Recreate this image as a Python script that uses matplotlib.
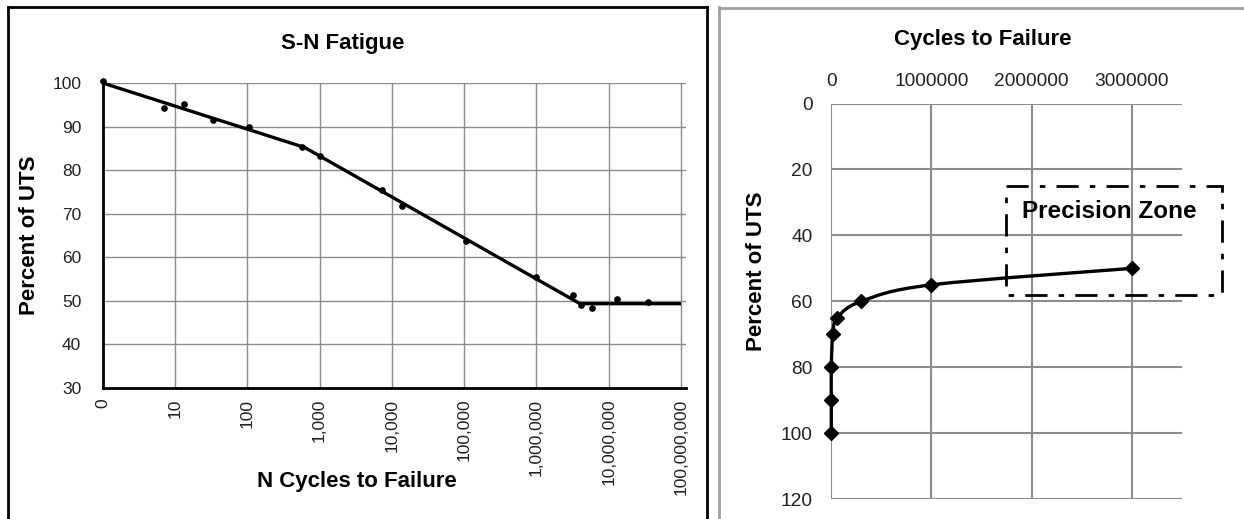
import matplotlib
matplotlib.use("Agg")
import matplotlib.pyplot as plt
from matplotlib.path import Path
from matplotlib.patches import PathPatch, Rectangle
from matplotlib.lines import Line2D
import numpy as np

plt.rcParams['font.family'] = ['Liberation Sans', 'DejaVu Sans']

# ---------------- data ----------------
# Left chart: S-N fatigue (log x)
sn_cycles = [1, 7.1, 13.5, 33.6, 105, 571, 1000, 7400, 14000, 105000,
             1.0e6, 3.2e6, 4.15e6, 5.8e6, 1.3e7, 3.5e7]
sn_pct = [100.4, 94.2, 95.2, 91.5, 89.9, 85.2, 83.2, 75.5, 71.7, 63.7,
          55.4, 51.3, 49.0, 48.2, 50.3, 49.8]
fit_cycles = [1, 620, 4.0e6, 1.0e8]
fit_pct = [100, 85.2, 49.3, 49.3]
left_xticks = [1, 10, 100, 1e3, 1e4, 1e5, 1e6, 1e7, 1e8]
left_xticklabels = ['0', '10', '100', '1,000', '10,000', '100,000',
                    '1,000,000', '10,000,000', '100,000,000']
left_yticks = [30, 40, 50, 60, 70, 80, 90, 100]

# Right chart: cycles (linear x on top) vs percent (inverted y)
cyc = [0, 0, 0, 15000, 60000, 300000, 1000000, 3000000]
pct = [100, 90, 80, 70, 65, 60, 55, 50]
right_xticks = [0, 1000000, 2000000, 3000000]
right_yticks = [0, 20, 40, 60, 80, 100, 120]
zone_x = (1.74e6, 3.9e6)
zone_y = (25.1, 58.1)

W, H = 1244, 519
fig = plt.figure(figsize=(W / 100, H / 100), dpi=100)

def fx(px):
    return px / W

def fy(py):
    return 1 - py / H

GRID = '#8c8c8c'

# ---------------- left chart ----------------
axL = fig.add_axes([fx(102.7), fy(387.7), fx(686) - fx(102.7), fy(83) - fy(387.7)])
axL.set_xscale('log')
axL.set_xlim(1, 1.17e8)
axL.set_ylim(30, 100)
axL.set_xticks(left_xticks)
axL.set_xticklabels(left_xticklabels, rotation=90)
axL.xaxis.set_minor_locator(matplotlib.ticker.NullLocator())
axL.set_yticks(left_yticks)
axL.tick_params(axis='both', length=0, labelsize=12.5, colors='#222222')
axL.tick_params(axis='x', pad=8)
axL.tick_params(axis='y', pad=15.5)
axL.grid(True, color=GRID, linewidth=1.0)
axL.set_axisbelow(True)
for s in ['top', 'right']:
    axL.spines[s].set_visible(False)
for s in ['left', 'bottom']:
    axL.spines[s].set_color('black')
    axL.spines[s].set_linewidth(2.0)
axL.plot(fit_cycles, fit_pct, color='black', linewidth=2.4, solid_capstyle='butt', clip_on=False, zorder=3)
axL.plot(sn_cycles, sn_pct, linestyle='none', marker='o', markersize=3.8, color='black', clip_on=False, zorder=4)

fig.text(fx(343), fy(44), 'S-N Fatigue', ha='center', va='center', fontsize=16, fontweight='bold')
fig.text(fx(30), fy(235), 'Percent of UTS', ha='center', va='center', fontsize=16, fontweight='bold', rotation=90)
fig.text(fx(357), fy(481), 'N Cycles to Failure', ha='center', va='center', fontsize=16, fontweight='bold')

# ---------------- right chart ----------------
axR = fig.add_axes([fx(831.3), fy(499), fx(1182) - fx(831.3), fy(103.6) - fy(499)])
axR.set_xlim(0, 3.5e6)
axR.set_ylim(120, 0)
axR.set_xticks(right_xticks)
axR.set_xticklabels([str(v) for v in right_xticks])
axR.set_yticks(right_yticks)
axR.xaxis.tick_top()
axR.tick_params(axis='both', length=0, labelsize=13.8, colors='#222222')
axR.tick_params(axis='x', pad=10)
axR.tick_params(axis='y', pad=13.5)
axR.grid(True, color=GRID, linewidth=1.5)
axR.set_axisbelow(True)
for s in axR.spines.values():
    s.set_visible(False)

# smoothed (Excel-like) line through the data points
P = np.column_stack([cyc, pct]).astype(float)
n = len(P)
verts = [tuple(P[0])]
codes = [Path.MOVETO]
for i in range(n - 1):
    p0 = P[i - 1] if i > 0 else P[i]
    p1 = P[i]
    p2 = P[i + 1]
    p3 = P[i + 2] if i + 2 < n else P[i + 1]
    c1 = p1 + (p2 - p0) / 6.0
    c2 = p2 - (p3 - p1) / 6.0
    verts += [tuple(c1), tuple(c2), tuple(p2)]
    codes += [Path.CURVE4, Path.CURVE4, Path.CURVE4]
axR.add_patch(PathPatch(Path(verts, codes), facecolor='none', edgecolor='black',
                        linewidth=2.4, zorder=3, clip_on=False))
axR.plot(cyc, pct, linestyle='none', marker='D', markersize=7, color='black', clip_on=False, zorder=4)

rect = Rectangle((zone_x[0], zone_y[0]), zone_x[1] - zone_x[0], zone_y[1] - zone_y[0],
                 fill=False, edgecolor='black', linewidth=2.0, linestyle=(0, (8, 4, 2, 4)),
                 clip_on=False, zorder=5)
axR.add_patch(rect)
axR.text((zone_x[0] + zone_x[1]) / 2 - 0.05e6, 32.7, 'Precision Zone', ha='center', va='center',
         fontsize=17.5, fontweight='bold', clip_on=False, zorder=6)

fig.text(fx(983), fy(40), 'Cycles to Failure', ha='center', va='center', fontsize=16, fontweight='bold')
fig.text(fx(757), fy(271), 'Percent of UTS', ha='center', va='center', fontsize=16, fontweight='bold', rotation=90)

# ---------------- panel borders ----------------
fig.add_artist(Line2D([fx(8), fx(8)], [fy(7), 0], color='black', linewidth=2.0))
fig.add_artist(Line2D([fx(8), fx(707)], [fy(7), fy(7)], color='black', linewidth=2.0))
fig.add_artist(Line2D([fx(707), fx(707)], [fy(7), 0], color='black', linewidth=2.0))
fig.add_artist(Line2D([fx(718.5), fx(718.5)], [fy(7), 0], color='#a0a0a0', linewidth=2.0))
fig.add_artist(Line2D([fx(718.5), 1], [fy(7.5), fy(7.5)], color='#a0a0a0', linewidth=2.0))

fig.savefig('out.png', dpi=100)
